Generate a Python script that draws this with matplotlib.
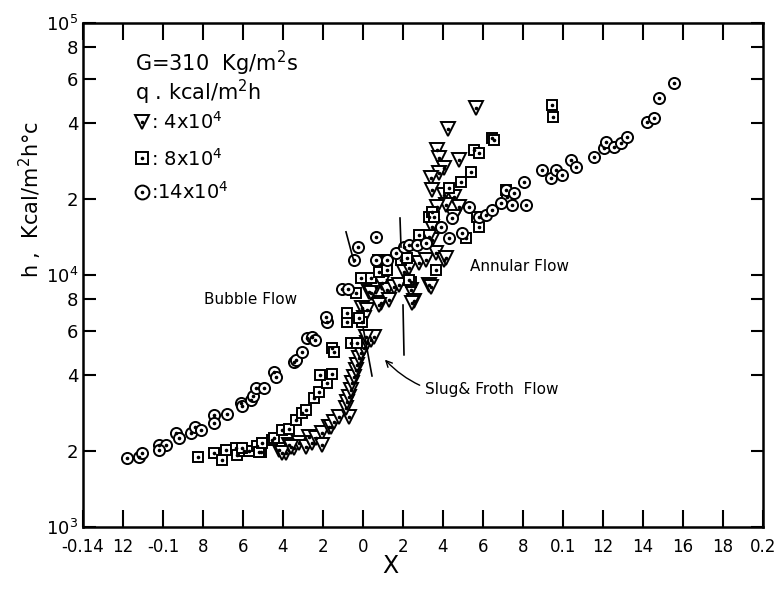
import matplotlib
matplotlib.use("Agg")
import matplotlib.pyplot as plt

plt.rcParams['font.family'] = ['DejaVu Sans']
plt.rcParams['mathtext.fontset'] = 'dejavusans'

# q = 4x10^4 kcal/m2h  (triangles)
tri_x = [-0.042, -0.0385, -0.037, -0.0345, -0.032, -0.0285, -0.027, -0.0255, -0.0235, -0.0205,
         -0.017, -0.016, -0.0145, -0.012, -0.007, -0.0085, -0.008, -0.007, -0.006, -0.0055,
         -0.0045, -0.0035, -0.003, -0.002, -0.001, 0.0005, 0.002, 0.004, 0.0055, 0.0015,
         -0.0405, -0.036, -0.0205,
         -0.0005, 0.002, 0.0005, 0.003, 0.0065, 0.0095, 0.012, 0.0155, 0.009, 0.013, 0.018,
         0.0205, 0.023, 0.024, 0.0255, 0.028, 0.033, 0.0315, 0.0345, 0.0365, 0.0405, 0.0345,
         0.0245, 0.004, 0.008,
         0.0565, 0.0425, 0.048, 0.037, 0.038, 0.0405, 0.038, 0.034, 0.0345, 0.0405, 0.0455,
         0.048, 0.0415, 0.037, 0.0455, 0.033, 0.0415, 0.034]
tri_h = [2020, 1970, 2115, 2060, 2155, 2080, 2280, 2155, 2255, 2360,
         2490, 2490, 2610, 2730, 2730, 2965, 3130, 3280, 3500, 3730,
         3940, 4200, 4400, 4690, 4900, 5130, 5370, 5520, 5680, 5680,
         1970, 2080, 2115,
         7400, 7260, 6750, 8570, 8960, 9290, 8710, 8960, 7740, 7960, 9120,
         10280, 10660, 8710, 7850, 11160, 9120, 11480, 13770, 12230, 11480, 15500,
         7740, 8490, 7600,
         46030, 37950, 28590, 31340, 29130, 26600, 25400, 24270, 21740, 20770, 20410,
         18620, 18960, 18620, 16980, 14150, 11680, 8960]

# q = 8x10^4 kcal/m2h  (squares)
sq_x = [-0.0825, -0.0745, -0.0705, -0.0685, -0.0635, -0.063, -0.0595, -0.057, -0.053, -0.051,
        -0.0455, -0.0445, -0.0405, -0.037, -0.0335, -0.0305, -0.0285, -0.0245, -0.022, -0.018,
        -0.0215, -0.0155, -0.0155, -0.0145, -0.006, -0.003, -0.008, -0.0005,
        -0.0605, -0.052, -0.0505,
        -0.0035, -0.001, 0.004, 0.008, 0.012, 0.0075, 0.012, 0.019, 0.024, 0.028, 0.033,
        0.0365, 0.022, 0.023, 0.0345, 0.0355, 0.043, 0.049, 0.054, 0.0555, 0.058, 0.0645,
        0.0655, 0.057, 0.058, 0.0515, 0.0715, 0.072, 0.0945, 0.095, -0.008, -0.002]
sq_h = [1900, 1970, 1845, 2020, 2060, 1930, 2000, 2000, 2100, 1985,
        2210, 2255, 2430, 2450, 2660, 2830, 2910, 3250, 3430, 3730,
        4010, 4060, 5130, 4940, 5370, 5370, 6510, 6510,
        2060, 1985, 2155,
        8490, 9730, 9730, 10280, 10470, 11480, 11480, 11480, 9380, 14420, 16980,
        10470, 11680, 9550, 17780, 16980, 22140, 23390, 25630, 31340, 30480, 34990,
        34400, 16980, 15500, 14030, 21740, 20410, 47300, 42360, 7060, 6750]

# q = 14x10^4 kcal/m2h  (circles)
cir_x = [-0.118, -0.112, -0.1105, -0.102, -0.0985, -0.102, -0.0935, -0.092, -0.086, -0.084,
         -0.081, -0.0745, -0.0745, -0.068, -0.061, -0.0605, -0.056, -0.055, -0.0535, -0.0495,
         -0.0445, -0.0435, -0.0345, -0.0335, -0.0305, -0.028, -0.0255, -0.024, -0.018, -0.0185,
         -0.0105, -0.0075, -0.0045, -0.0025, 0.0065,
         0.0065, 0.012, 0.0165, 0.0205, 0.023, 0.027, 0.0315, 0.039, 0.043, 0.0445, 0.0495,
         0.053, 0.058, 0.0615, 0.0645, 0.069, 0.0715, 0.0755, 0.0805, 0.0815, 0.0745, 0.0895,
         0.094, 0.0965, 0.0995, 0.104, 0.1065, 0.1155, 0.1205, 0.1215, 0.1255, 0.129, 0.132,
         0.142, 0.1455, 0.148, 0.1555]
cir_h = [1880, 1900, 1970, 2115, 2115, 2020, 2360, 2255, 2360, 2490,
         2430, 2780, 2590, 2810, 3100, 3020, 3190, 3310, 3560, 3560,
         4120, 3940, 4520, 4610, 4940, 5620, 5680, 5520, 6510, 6810,
         8790, 8790, 11480, 12910, 14150,
         11480, 11480, 12230, 12910, 13150, 13150, 13400, 15500, 14030, 16830, 14680,
         18620, 16980, 17300, 18110, 19320, 21740, 21150, 23390, 18960, 18960, 26110,
         24270, 26110, 24950, 28590, 26850, 29400, 31920, 33730, 32210, 33420, 35310,
         40460, 41980, 50400, 57810]

x_ticks = [-0.14, -0.12, -0.10, -0.08, -0.06, -0.04, -0.02, 0.0, 0.02, 0.04, 0.06,
           0.08, 0.10, 0.12, 0.14, 0.16, 0.18, 0.20]
x_labels = ["-0.14", "12", "-0.1", "8", "6", "4", "2", "0", "2", "4", "6",
            "8", "0.1", "12", "14", "16", "18", "0.2"]
y_ticks = [1e3, 2e3, 4e3, 6e3, 8e3, 1e4, 2e4, 4e4, 6e4, 8e4, 1e5]
y_labels = ["$10^3$", "2", "4", "6", "8", "$10^4$", "2", "4", "6", "8", "$10^5$"]

# flow regime boundary strokes (x pair, h pair)
boundaries = [([-0.0085, -0.0045], [14830, 11270]),
              ([0.0185, 0.019], [16830, 12910]),
              ([0.02, 0.0205], [7600, 4820]),
              ([0.0, 0.0045], [6220, 3975])]

fig = plt.figure(figsize=(7.75, 5.9), dpi=100)
ax = fig.add_axes([83 / 775, 1 - 527 / 590, 680 / 775, 504 / 590])
ax.set_yscale('log')
ax.set_xlim(-0.14, 0.2)
ax.set_ylim(1e3, 1e5)

mk = dict(linestyle='none', markerfacecolor='white', markeredgecolor='black',
          markeredgewidth=1.4)
dot = dict(linestyle='none', marker='o', markersize=1.6, color='black')
for xs, hs, m, s in [(tri_x, tri_h, 'v', 9.5), (sq_x, sq_h, 's', 7.5), (cir_x, cir_h, 'o', 8)]:
    ax.plot(xs, hs, marker=m, markersize=s, **mk)
    ax.plot(xs, hs, **dot)

for bx, bh in boundaries:
    ax.plot(bx, bh, color='black', linewidth=1.2)

ax.set_xticks(x_ticks)
ax.set_xticklabels(x_labels)
ax.set_yticks(y_ticks)
ax.set_yticklabels(y_labels)
ax.minorticks_off()
ax.tick_params(axis='x', direction='in', length=12, width=1.5, top=True, labelsize=12, pad=8)
ax.tick_params(axis='y', direction='in', length=9, width=1.5, right=True, labelsize=13)
for sp in ax.spines.values():
    sp.set_linewidth(1.8)

ax.text(-0.0795, 7700, "Bubble Flow", fontsize=11)
ax.text(0.0535, 10400, "Annular Flow", fontsize=11)
ax.annotate("Slug& Froth  Flow", xy=(0.010, 4700), xytext=(0.031, 3500),
            fontsize=11, va='center',
            arrowprops=dict(arrowstyle='->', color='black', lw=1.0,
                            connectionstyle='arc3,rad=-0.3'))

# legend block
ax.text(-0.114, 69000, "G=310  Kg/m$^2$s", fontsize=15, va='center')
ax.text(-0.114, 53000, "q . kcal/m$^2$h", fontsize=15, va='center')
leg_x = -0.1105
for h, m, s, lab in [(40500, 'v', 10, ": 4x10$^4$"), (29000, 's', 9, ": 8x10$^4$"),
                     (21300, 'o', 10, ":14x10$^4$")]:
    ax.plot([leg_x], [h], marker=m, markersize=s, **mk)
    ax.plot([leg_x], [h], **dot)
    ax.text(leg_x + 0.0045, h, lab, fontsize=14, va='center')

fig.text(30 / 775, 1 - 200 / 590, "h ,  Kcal/m$^2$h°c", rotation=90,
         fontsize=15, ha='center', va='center')
fig.text(390 / 775, 1 - 566 / 590, "X", fontsize=17, ha='center', va='center')

fig.savefig("out.png", dpi=100)
